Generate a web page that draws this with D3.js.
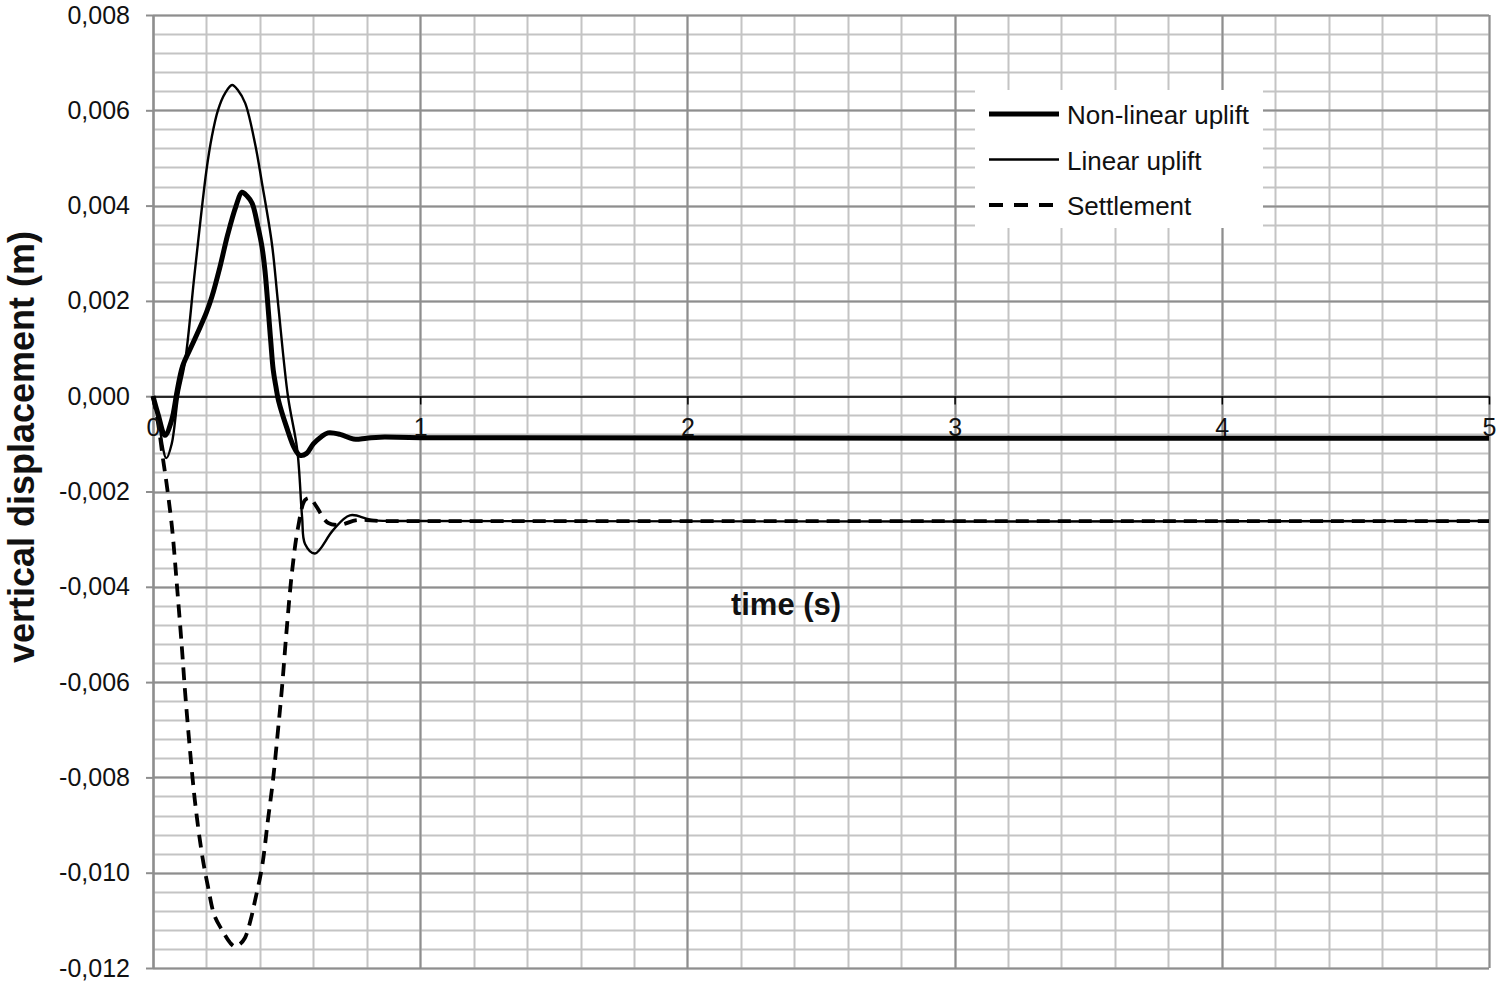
<!DOCTYPE html>
<html>
<head>
<meta charset="utf-8">
<script src="https://cdn.jsdelivr.net/npm/d3@7"></script>
<style>
  body { margin: 0; background: #fff; }
  text { font-family: "Liberation Sans", Arial, sans-serif; }
</style>
</head>
<body>
<div class="chart-container"></div>
<script>
// time (s) and vertical displacement (m)
var tNonLinear = [0, 0.02, 0.045, 0.07, 0.09, 0.11, 0.14, 0.17, 0.2, 0.22, 0.25, 0.28, 0.31, 0.333, 0.352, 0.371, 0.393, 0.408, 0.419, 0.44, 0.45, 0.46, 0.47, 0.50, 0.53, 0.55, 0.575, 0.60, 0.63, 0.655, 0.70, 0.75, 0.80, 0.85, 1.0, 5.0];
var vNonLinear = [0, -0.0004, -0.00082, -0.0005, 0.0001, 0.00062, 0.001, 0.00137, 0.00176, 0.00208, 0.0027, 0.0034, 0.00398, 0.00428, 0.0042, 0.00405, 0.00355, 0.00313, 0.00264, 0.0012, 0.00055, 0.0002, -0.0001, -0.00065, -0.0011, -0.00124, -0.0012, -0.001, -0.00085, -0.00077, -0.0008, -0.0009, -0.00088, -0.00086, -0.00087, -0.00088];

var tLinear = [0, 0.02, 0.05, 0.07, 0.094, 0.12, 0.157, 0.2, 0.22, 0.243, 0.27, 0.296, 0.318, 0.345, 0.382, 0.408, 0.445, 0.468, 0.505, 0.54, 0.558, 0.569, 0.606, 0.674, 0.737, 0.823, 1.0, 5.0];
var vLinear = [0, -0.0005, -0.0013, -0.001, 0, 0.00073, 0.00264, 0.00474, 0.00544, 0.006, 0.00636, 0.00653, 0.00642, 0.00615, 0.0053, 0.00447, 0.0032, 0.00195, 0, -0.00113, -0.00254, -0.0031, -0.0033, -0.00281, -0.0025, -0.0026, -0.00262, -0.00262];

var tSettlement = [0, 0.02, 0.037, 0.05, 0.071, 0.09, 0.108, 0.12, 0.138, 0.157, 0.183, 0.206, 0.23, 0.258, 0.29, 0.307, 0.325, 0.344, 0.365, 0.382, 0.408, 0.43, 0.449, 0.468, 0.483, 0.501, 0.52, 0.543, 0.569, 0.588, 0.61, 0.655, 0.70, 0.763, 0.85, 1.0, 5.0];
var vSettlement = [0, -0.0006, -0.0013, -0.0018, -0.00275, -0.004, -0.00527, -0.0062, -0.0074, -0.0085, -0.0096, -0.0103, -0.0109, -0.0112, -0.01148, -0.01155, -0.0115, -0.01137, -0.011, -0.01058, -0.00988, -0.0089, -0.00806, -0.007, -0.0061, -0.00485, -0.0037, -0.00275, -0.00218, -0.00214, -0.0023, -0.00266, -0.0027, -0.0026, -0.00262, -0.00262, -0.00262];

var seriesNames = ["Non-linear uplift", "Linear uplift", "Settlement"];
var xTicks = [0, 1, 2, 3, 4, 5];
var yTicks = [0.008, 0.006, 0.004, 0.002, 0, -0.002, -0.004, -0.006, -0.008, -0.010, -0.012];
var yMinorStep = 0.0004;
var xMinorStep = 0.2;

var series = [
    { name: seriesNames[0], t: tNonLinear, v: vNonLinear, width: 5, dash: null },
    { name: seriesNames[1], t: tLinear, v: vLinear, width: 2.4, dash: null },
    { name: seriesNames[2], t: tSettlement, v: vSettlement, width: 3.8, dash: "13,8" }
];

var margin = { top: 15, right: 11, bottom: 19, left: 153 },
    width = 1500 - margin.left - margin.right,
    height = 987 - margin.top - margin.bottom;

var svg = d3.select('.chart-container')
    .append('svg')
    .attr("width", 1500)
    .attr("height", 987)
    .style("display", "block");

var g = svg.append("g")
    .attr("transform", "translate(" + margin.left + "," + margin.top + ")");

var x = d3.scaleLinear()
    .domain([0, 5])
    .range([0, width]);

var y = d3.scaleLinear()
    .domain([-0.012, 0.008])
    .range([height, 0]);

var locale = d3.formatLocale({ decimal: ",", thousands: ".", grouping: [3], currency: ["", ""], minus: "-" });
var fmt = locale.format(".3f");

// minor grid
var yMinor = d3.range(0, Math.round(0.02 / yMinorStep) + 1).map(function(i) { return -0.012 + i * yMinorStep; });
var xMinor = d3.range(0, Math.round(5 / xMinorStep) + 1).map(function(i) { return i * xMinorStep; });

g.append("g").selectAll("line")
    .data(yMinor)
    .enter().append("line")
    .attr("x1", 0).attr("x2", width)
    .attr("y1", function(d) { return Math.round(y(d)) + 0.5; })
    .attr("y2", function(d) { return Math.round(y(d)) + 0.5; })
    .attr("stroke", "#c4c4c4").attr("stroke-width", 2);

g.append("g").selectAll("line")
    .data(xMinor)
    .enter().append("line")
    .attr("y1", 0).attr("y2", height)
    .attr("x1", function(d) { return Math.round(x(d)) + 0.5; })
    .attr("x2", function(d) { return Math.round(x(d)) + 0.5; })
    .attr("stroke", "#c4c4c4").attr("stroke-width", 2);

// major grid
g.append("g").selectAll("line")
    .data(yTicks)
    .enter().append("line")
    .attr("x1", 0).attr("x2", width)
    .attr("y1", function(d) { return Math.round(y(d)) + 0.5; })
    .attr("y2", function(d) { return Math.round(y(d)) + 0.5; })
    .attr("stroke", "#8e8e8e").attr("stroke-width", 2);

g.append("g").selectAll("line")
    .data(xTicks)
    .enter().append("line")
    .attr("y1", 0).attr("y2", height)
    .attr("x1", function(d) { return Math.round(x(d)) + 0.5; })
    .attr("x2", function(d) { return Math.round(x(d)) + 0.5; })
    .attr("stroke", "#8e8e8e").attr("stroke-width", 2);

// y axis
var yAxis = d3.axisLeft(y)
    .tickValues(yTicks)
    .tickSize(7)
    .tickSizeOuter(0)
    .tickPadding(16)
    .tickFormat(fmt);

var yAx = g.append("g").call(yAxis);
yAx.select(".domain").attr("stroke", "#8e8e8e").attr("stroke-width", 2);
yAx.selectAll(".tick line").attr("stroke", "#8e8e8e").attr("stroke-width", 2);
yAx.selectAll(".tick text")
    .style("font-size", "25px")
    .attr("fill", "#111");

// legend background
var legend = svg.append("g")
    .attr("transform", "translate(975,90)");

legend.append("rect")
    .attr("width", 288)
    .attr("height", 138)
    .attr("fill", "#fff");

// curves
var line = d3.line()
    .x(function(d) { return x(d[0]); })
    .y(function(d) { return y(d[1]); })
    .curve(d3.curveCatmullRom.alpha(0.5));

g.append("g").selectAll("path")
    .data(series)
    .enter().append("path")
    .attr("d", function(s) { return line(d3.zip(s.t, s.v)); })
    .attr("fill", "none")
    .attr("stroke", "#000")
    .attr("stroke-width", function(s) { return s.width; })
    .attr("stroke-dasharray", function(s) { return s.dash; })
    .attr("stroke-linejoin", "round");

// x axis on zero line
var xAxis = d3.axisBottom(x)
    .tickValues(xTicks)
    .tickSize(8)
    .tickSizeOuter(0)
    .tickPadding(14)
    .tickFormat(d3.format("d"));

var xAx = g.append("g")
    .attr("transform", "translate(0," + (Math.round(y(0)) + 0.5) + ")")
    .call(xAxis);
xAx.select(".domain").attr("stroke", "#000").attr("stroke-width", 1.5);
xAx.selectAll(".tick line").attr("stroke", "#000").attr("stroke-width", 1.5);
xAx.selectAll(".tick text")
    .style("font-size", "25px")
    .attr("fill", "#111");

// axis titles
svg.append("text")
    .attr("transform", "translate(34,447) rotate(-90)")
    .attr("text-anchor", "middle")
    .style("font-size", "36px")
    .style("font-weight", "bold")
    .attr("fill", "#111")
    .text("vertical displacement (m)");

svg.append("text")
    .attr("x", 786)
    .attr("y", 615)
    .attr("text-anchor", "middle")
    .style("font-size", "31px")
    .style("font-weight", "bold")
    .attr("fill", "#111")
    .text("time (s)");

// legend entries
var item = legend.selectAll(".item")
    .data(series)
    .enter().append("g")
    .attr("class", "item")
    .attr("transform", function(s, i) { return "translate(0," + (24 + i * 45.5) + ")"; });

item.append("line")
    .attr("x1", 14).attr("x2", 84)
    .attr("stroke", "#000")
    .attr("stroke-width", function(s) { return s.width; })
    .attr("stroke-dasharray", function(s) { return s.dash ? "14,11" : null; });

item.append("text")
    .attr("x", 92)
    .attr("y", 10)
    .style("font-size", "26px")
    .attr("fill", "#111")
    .text(function(s) { return s.name; });
</script>
</body>
</html>
